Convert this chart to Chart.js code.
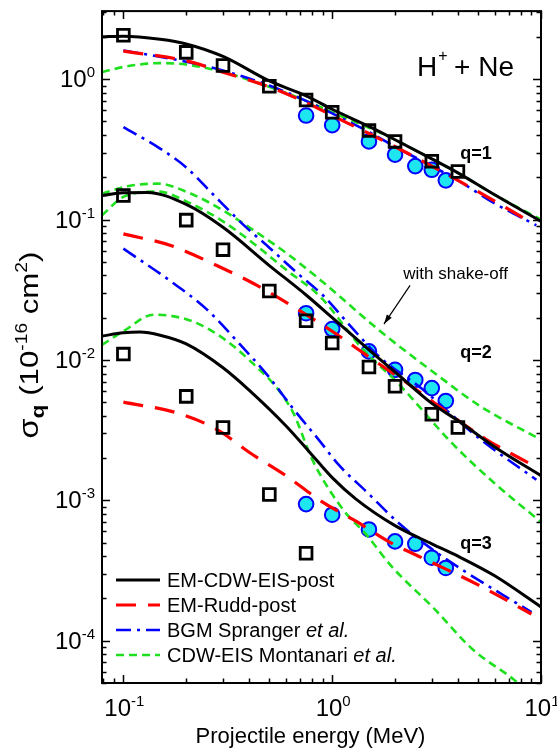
<!DOCTYPE html>
<html><head><meta charset="utf-8">
<script src="https://cdn.jsdelivr.net/npm/chart.js@4.4.1/dist/chart.umd.min.js"></script>
<style>html,body{margin:0;padding:0;background:#fff}canvas{display:block}</style>
</head><body>
<canvas id="c" width="557" height="750"></canvas>
<script>
// ---------- data (energy in MeV, cross section in 1e-16 cm^2) ----------
// EM-CDW-EIS-post (black solid)
const cdwE1 = [0.079,0.1,0.15,0.2,0.3,0.5,0.75,1,1.5,2,3,4,6,10];
const cdwS1 = [2.0,2.02,1.92,1.78,1.45,0.97,0.76,0.61,0.46,0.37,0.27,0.215,0.15,0.097];
const cdwE2 = [0.079,0.1,0.13,0.2,0.3,0.5,0.75,1,1.5,2,3,4,6,10];
const cdwS2 = [0.148,0.155,0.156,0.128,0.088,0.047,0.029,0.02,0.0118,0.0082,0.0049,0.0037,0.0024,0.0015];
const cdwE3 = [0.079,0.1,0.12,0.15,0.2,0.3,0.4,0.6,0.78,1,1.3,2,3,4,6,10];
const cdwS3 = [0.0148,0.0156,0.0158,0.015,0.013,0.0088,0.0061,0.0034,0.0022,0.00145,0.00102,0.00066,0.00049,0.0004,0.00029,0.000174];
// EM-Rudd-post (red long dash)
const ruddE1 = [0.1,0.2,0.3,0.5,0.75,1,1.5,2,3,4,6,9];
const ruddS1 = [1.58,1.35,1.12,0.88,0.68,0.55,0.41,0.33,0.24,0.19,0.135,0.095];
const ruddE2 = [0.1,0.17,0.28,0.42,0.65,1,1.5,2.4,3.5,5.5,9];
const ruddS2 = [0.079,0.065,0.047,0.035,0.024,0.016,0.0105,0.0065,0.0043,0.0027,0.0018];
const ruddE3 = [0.1,0.18,0.28,0.4,0.6,0.9,1.3,1.9,2.9,5,9];
const ruddS3 = [0.005,0.0042,0.0032,0.0022,0.0015,0.00097,0.00071,0.0005,0.00037,0.00025,0.000155];
// BGM Spranger et al. (blue dash-dot)
const bgmE1 = [0.1,0.2,0.3,0.5,0.75,1,1.5,2,3,4,6,9.5];
const bgmS1 = [1.6,1.33,1.15,0.9,0.7,0.57,0.42,0.33,0.24,0.19,0.13,0.091];
const bgmE2 = [0.1,0.15,0.2,0.27,0.375,0.5,0.7,0.9,1.2,1.65,2.7,5,9.5];
const bgmS2 = [0.455,0.32,0.235,0.15,0.092,0.063,0.04,0.029,0.018,0.0108,0.0062,0.0028,0.0014];
const bgmE3 = [0.1,0.17,0.25,0.36,0.5,0.65,0.88,1.07,1.47,2.1,3,4.2,6,9];
const bgmS3 = [0.062,0.036,0.023,0.013,0.0075,0.0045,0.0026,0.0018,0.00114,0.00068,0.00045,0.00032,0.00023,0.00016];
// CDW-EIS Montanari et al. (green short dash)
const monE1 = [0.079,0.1,0.15,0.2,0.3,0.5,0.75,1,1.5,2,3,4,6,10];
const monS1 = [1.12,1.22,1.3,1.27,1.12,0.88,0.7,0.58,0.45,0.37,0.27,0.215,0.15,0.1];
const monE2so = [0.079,0.108,0.146,0.21,0.3,0.44,0.6,0.88,1.7,2.95,5.1,10];
const monS2so = [0.153,0.174,0.18,0.153,0.116,0.08,0.058,0.037,0.016,0.0085,0.0047,0.0027];
const monE2 = [0.079,0.1,0.146,0.21,0.3,0.44,0.6,0.88,1.41,2.05,3.8,5.9,10];
const monS2 = [0.107,0.145,0.158,0.13,0.097,0.064,0.044,0.028,0.0118,0.0069,0.0025,0.00135,0.0007];
const monE3 = [0.079,0.1,0.14,0.23,0.4,0.64,0.81,1.12,1.47,1.92,3.07,4.7,7.4,10];
const monS3 = [0.0128,0.016,0.021,0.018,0.01,0.0044,0.0019,0.00087,0.00056,0.00034,0.00017,0.000087,0.000053,0.000036];
// experiment: open squares
const sqE = [0.1,0.2,0.3,0.5,0.75,1,1.5,2,3,4];
const sqS1 = [2.05,1.55,1.25,0.89,0.71,0.58,0.43,0.36,0.26,0.22];
const sqS2 = [0.148,0.099,0.061,0.031,0.019,0.0132,0.0089,0.0065,0.0041,0.0033];
const sqE3 = [0.1,0.2,0.3,0.5,0.75];
const sqS3 = [0.011,0.0055,0.0033,0.0011,0.00042];
// experiment: filled circles
const ciE = [0.75,1,1.5,2,2.5,3,3.5];
const ciS1 = [0.55,0.47,0.36,0.29,0.24,0.226,0.19];
const ciS2 = [0.0215,0.0166,0.0115,0.0085,0.0072,0.0063,0.0051];
const ciS3 = [0.00094,0.00079,0.00062,0.00051,0.00049,0.00039,0.00033];
// axes
const xTickVals = [0.1, 1, 10];
const xTickExp = ['-1', '0', '1'];
const yTickVals = [1e-4, 1e-3, 1e-2, 1e-1, 1];
const yTickExp = ['-4', '-3', '-2', '-1', '0'];
const legendLabels = [['EM-CDW-EIS-post',''],['EM-Rudd-post',''],['BGM Spranger ','et al.'],['CDW-EIS Montanari ','et al.']];
const qLabels = [['q=1',4.1,0.27],['q=2',4.1,0.0104],['q=3',4.1,0.00045]];

// ---------- styles ----------
const FONT = '"Liberation Sans", Arial, Helvetica, sans-serif';
const C_BLACK = '#000000', C_RED = '#ff0000', C_BLUE = '#0000ff', C_GREEN = '#1ee01e';
const styles = {
  cdw:  {borderColor: C_BLACK, borderWidth: 3, borderDash: []},
  rudd: {borderColor: C_RED, borderWidth: 3.2, borderDash: [20, 12]},
  bgm:  {borderColor: C_BLUE, borderWidth: 2.6, borderDash: [15, 6, 3, 6]},
  mon:  {borderColor: C_GREEN, borderWidth: 2.6, borderDash: [8, 5]}
};
function pts(E, S) { return E.map((e, i) => ({x: e, y: S[i]})); }
function line(E, S, st, label) {
  return Object.assign({label: label, data: pts(E, S), showLine: true, pointRadius: 0, fill: false,
    cubicInterpolationMode: 'monotone', borderCapStyle: 'butt', order: 2}, st);
}
function squares(E, S) {
  return {label: 'exp-sq', data: pts(E, S), showLine: false, pointStyle: 'rect', pointRadius: 8.3,
    borderColor: C_BLACK, backgroundColor: 'rgba(0,0,0,0)', pointBorderWidth: 2.8, order: 1};
}
function circles(E, S) {
  return {label: 'exp-ci', data: pts(E, S), showLine: false, pointStyle: 'circle', pointRadius: 7.3,
    borderColor: C_BLUE, backgroundColor: '#1ee6f0', pointBorderWidth: 2, order: 5};
}
const datasets = [
  circles(ciE, ciS1), circles(ciE, ciS2), circles(ciE, ciS3),
  line(cdwE1, cdwS1, styles.cdw, 'EM-CDW-EIS-post'), line(cdwE2, cdwS2, styles.cdw), line(cdwE3, cdwS3, styles.cdw),
  line(ruddE1, ruddS1, styles.rudd, 'EM-Rudd-post'), line(ruddE2, ruddS2, styles.rudd), line(ruddE3, ruddS3, styles.rudd),
  line(bgmE1, bgmS1, styles.bgm, 'BGM'), line(bgmE2, bgmS2, styles.bgm), line(bgmE3, bgmS3, styles.bgm),
  line(monE1, monS1, styles.mon, 'CDW-EIS'), line(monE2so, monS2so, styles.mon), line(monE2, monS2, styles.mon), line(monE3, monS3, styles.mon),
  squares(sqE, sqS1), squares(sqE, sqS2), squares(sqE3, sqS3)
];

function pow10(ctx, exp, x, y, align, big, small, rise) {
  ctx.font = big + 'px ' + FONT;
  const w1 = ctx.measureText('10').width;
  ctx.font = small + 'px ' + FONT;
  const w2 = ctx.measureText(exp).width;
  const x0 = align === 'right' ? x - w1 - w2 : x - (w1 + w2) / 2;
  ctx.textAlign = 'left'; ctx.textBaseline = 'alphabetic';
  ctx.font = big + 'px ' + FONT; ctx.fillText('10', x0, y);
  ctx.font = small + 'px ' + FONT; ctx.fillText(exp, x0 + w1, y - rise);
}

const decor = {
  id: 'decor',
  afterDraw(chart) {
    const ctx = chart.ctx, a = chart.chartArea, xs = chart.scales.x, ys = chart.scales.y;
    ctx.save();
    ctx.fillStyle = '#000'; ctx.strokeStyle = '#000';
    // frame
    ctx.lineWidth = 2;
    ctx.strokeRect(a.left, a.top, a.right - a.left, a.bottom - a.top);
    // ticks (inward, all four sides)
    ctx.lineWidth = 1.5;
    ctx.beginPath();
    for (let d = -2; d <= 1; d++) for (let m = 1; m <= 9; m++) {
      const v = m * Math.pow(10, d);
      if (v < xs.min || v > xs.max) continue;
      const px = Math.round(xs.getPixelForValue(v)) + 0.5, L = m === 1 ? 8 : 4.5;
      ctx.moveTo(px, a.bottom); ctx.lineTo(px, a.bottom - L);
      ctx.moveTo(px, a.top); ctx.lineTo(px, a.top + L);
    }
    for (let d = -5; d <= 0; d++) for (let m = 1; m <= 9; m++) {
      const v = m * Math.pow(10, d);
      if (v < ys.min || v > ys.max) continue;
      const py = Math.round(ys.getPixelForValue(v)) + 0.5, L = m === 1 ? 8 : 4.5;
      ctx.moveTo(a.left, py); ctx.lineTo(a.left + L, py);
      ctx.moveTo(a.right, py); ctx.lineTo(a.right - L, py);
    }
    ctx.stroke();
    // tick labels
    xTickVals.forEach((v, i) => pow10(ctx, xTickExp[i], xs.getPixelForValue(v) + 1, a.bottom + 33, 'center', 24, 15, 10));
    yTickVals.forEach((v, i) => pow10(ctx, yTickExp[i], a.left - 7, ys.getPixelForValue(v) + 8, 'right', 24, 15, 10));
    // axis titles
    ctx.font = '22px ' + FONT; ctx.textAlign = 'center'; ctx.textBaseline = 'alphabetic';
    ctx.fillText('Projectile energy (MeV)', (a.left + a.right) / 2 - 11, 743);
    // y title rotated
    ctx.save();
    ctx.translate(38, 345);
    ctx.rotate(-Math.PI / 2);
    ctx.scale(1.2, 1);
    const parts = [['\u03c3', 27, 0, ''], ['q', 19, 6, 'bold '], [' (10', 26, 0, ''], ['-16', 16, -11, ''], [' cm', 26, 0, ''], ['2', 16, -11, ''], [')', 26, 0, '']];
    let tw = 0;
    parts.forEach(p => { ctx.font = p[3] + p[1] + 'px ' + FONT; tw += ctx.measureText(p[0]).width; });
    let cx = -tw / 2;
    ctx.textAlign = 'left';
    parts.forEach(p => { ctx.font = p[3] + p[1] + 'px ' + FONT; ctx.fillText(p[0], cx, p[2]); cx += ctx.measureText(p[0]).width; });
    ctx.restore();
    // H+ + Ne
    {
      const x0 = xs.getPixelForValue(2.55), y0 = ys.getPixelForValue(1.05);
      ctx.textAlign = 'left';
      ctx.font = '28px ' + FONT; ctx.fillText('H', x0, y0);
      const w = ctx.measureText('H').width;
      ctx.font = '16px ' + FONT; ctx.fillText('+', x0 + w + 1, y0 - 15);
      ctx.font = '28px ' + FONT; ctx.fillText(' + Ne', x0 + w + 9, y0);
    }
    // q labels
    ctx.font = 'bold 18px ' + FONT; ctx.textAlign = 'left';
    qLabels.forEach(q => ctx.fillText(q[0], xs.getPixelForValue(q[1]), ys.getPixelForValue(q[2])));
    // with shake-off + arrow
    ctx.font = '17px ' + FONT;
    ctx.fillText('with shake-off', xs.getPixelForValue(2.19), ys.getPixelForValue(0.038));
    {
      const x1 = xs.getPixelForValue(2.36), y1 = ys.getPixelForValue(0.034);
      const x2 = xs.getPixelForValue(1.77), y2 = ys.getPixelForValue(0.018);
      ctx.lineWidth = 1.2;
      ctx.beginPath(); ctx.moveTo(x1, y1); ctx.lineTo(x2, y2); ctx.stroke();
      const ang = Math.atan2(y2 - y1, x2 - x1), h = 10;
      ctx.beginPath(); ctx.moveTo(x2, y2);
      ctx.lineTo(x2 - h * Math.cos(ang - 0.3), y2 - h * Math.sin(ang - 0.3));
      ctx.lineTo(x2 - h * Math.cos(ang + 0.3), y2 - h * Math.sin(ang + 0.3));
      ctx.closePath(); ctx.fill();
    }
    // legend
    const legStyles = [styles.cdw, styles.rudd, styles.bgm, styles.mon];
    const ly0 = 580, dy = 25, lx1 = 116, lx2 = 160, tx = 167;
    legStyles.forEach((st, i) => {
      const y = ly0 + i * dy;
      ctx.save();
      ctx.strokeStyle = st.borderColor; ctx.lineWidth = st.borderWidth; ctx.setLineDash(st.borderDash); ctx.lineCap = 'butt';
      ctx.beginPath(); ctx.moveTo(lx1, y); ctx.lineTo(lx2, y); ctx.stroke();
      ctx.restore();
      ctx.fillStyle = '#000'; ctx.textAlign = 'left'; ctx.textBaseline = 'middle';
      ctx.font = '20px ' + FONT;
      ctx.fillText(legendLabels[i][0], tx, y + 1);
      const w = ctx.measureText(legendLabels[i][0]).width;
      ctx.font = 'italic 20px ' + FONT;
      ctx.fillText(legendLabels[i][1], tx + w, y + 1);
    });
    ctx.restore();
  }
};

new Chart(document.getElementById('c'), {
  type: 'line',
  data: {datasets: datasets},
  options: {
    responsive: false, animation: false, devicePixelRatio: 1,
    layout: {padding: {left: 102, right: 16, top: 7, bottom: 67}},
    plugins: {legend: {display: false}, tooltip: {enabled: false}},
    scales: {
      x: {type: 'logarithmic', min: 0.079, max: 10, display: false},
      y: {type: 'logarithmic', min: 5e-5, max: 3.05, display: false}
    }
  },
  plugins: [decor]
});
</script>
</body></html>
